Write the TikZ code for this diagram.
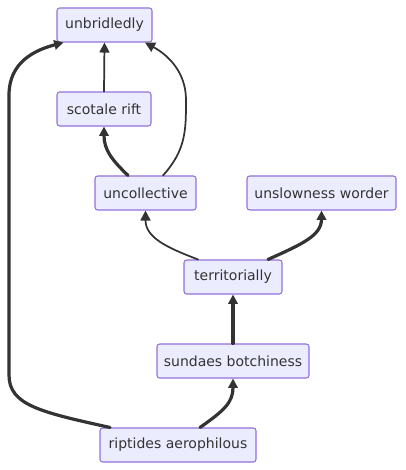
\documentclass[tikz,border=0pt]{standalone}
\usepackage{fontspec}
\setmainfont{DejaVu Sans}
\usepackage{xcolor}
\usetikzlibrary{positioning,calc,arrows.meta}

\definecolor{boxfill}{HTML}{ECECFF}
\definecolor{boxline}{HTML}{9370DB}
\definecolor{edgecol}{HTML}{333333}

\tikzset{
	term/.style={draw=boxline, fill=boxfill, line width=0.8pt, rounded corners=2pt,
		minimum height=34*0.75pt, inner xsep=0pt, text=edgecol,
		font=\fontsize{10.5}{12.5}\selectfont},
	thinlink/.style={draw=edgecol, line width=1.3pt, -{Triangle[length=7.5pt,width=7.5pt]}},
	thicklink/.style={draw=edgecol, line width=2.4pt, -{Triangle[length=7pt,width=7pt]}}
}

\begin{document}
\begin{tikzpicture}[
				x=0.75pt,y=-0.75pt,
				line cap=round,line join=round
				]
				% ---- frame (pixels of the reference)
				\useasboundingbox (0,0) rectangle (405,470);
				
				% ---- terms
				\node[term, minimum width=95*0.75pt]  (unb)  at (104.5,25)  {unbridledly};
				\node[term, minimum width=94*0.75pt]  (scot) at (104,109)   {scotale rift};
				\node[term, minimum width=101*0.75pt] (unc)  at (145.5,193) {uncollective};
				\node[term, minimum width=149*0.75pt] (uns)  at (321.5,193) {unslowness worder};
				\node[term, minimum width=98*0.75pt]  (terr) at (233,277)   {territorially};
				\node[term, minimum width=152*0.75pt] (sund) at (233,361)   {sundaes botchiness};
				\node[term, minimum width=156*0.75pt] (rip)  at (178,445)   {riptides aerophilous};
				
				% ---- links
				\draw[thinlink] (scot.north) -- (unb.south);
				\draw[thicklink] ($(unc.north)+(-17.5,0)$) .. controls (112,160) and (104,150) .. (scot.south);
				\draw[thinlink] ($(unc.north)+(17.5,0)$) .. controls (186,150) and (186,130) .. (186,100)
					.. controls (186,72) and (168,55) .. ($(unb.south)+(40.5,0)$);
				\draw[thinlink] ($(terr.north)+(-35,0)$) .. controls (168,248) and (145.5,238) .. (unc.south);
				\draw[thicklink] ($(terr.north)+(35,0)$) .. controls (300,245) and (321.5,236) .. (uns.south);
				\draw[thicklink] (sund.north) -- (terr.south);
				\draw[thicklink] ($(rip.north)+(22,0)$) .. controls (225,410) and (233,402) .. (sund.south);
				\draw[thicklink] ($(rip.north)+(-68,0)$) .. controls (40,412) and (9,405) .. (9,375)
					-- (9,95) .. controls (9,62) and (35,50) .. ($(unb.south)+(-41,0)$);
			\end{tikzpicture}
\end{document}
